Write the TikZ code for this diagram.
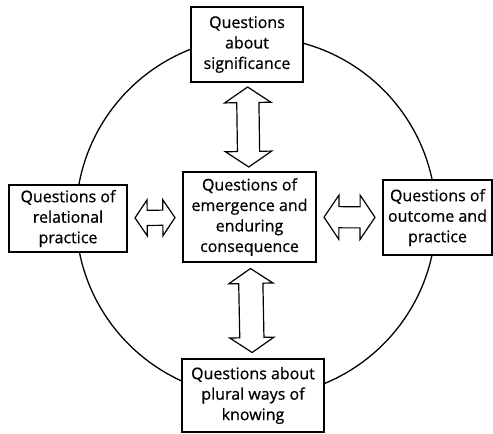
\documentclass[tikz,border=0pt]{standalone}
\usepackage{fontspec}
\setmainfont{Open Sans}
\newfontfamily\qfont[FakeBold=0.6]{Open Sans}
\usetikzlibrary{shapes.arrows}
\tikzset{
  qbox/.style={draw, fill=white, line width=1.2pt, align=center, inner sep=2pt,
    font=\qfont\fontsize{16}{20.5}\selectfont},
  blockarrow/.style={double arrow, draw, fill=white, line width=1.2pt, inner sep=0pt,
    double arrow tip angle=112}
}
\begin{document}
\begin{tikzpicture}[x=1pt, y=-1pt]
    \useasboundingbox (0,0) rectangle (493,434);

    % Le cercle
    \draw[line width=1.3pt] (256,217) circle [radius=180pt];

    % Les questions
    \node[qbox, minimum width=112pt, minimum height=75pt] (sig) at (247,44.5) {Questions\\about\\significance};
    \node[qbox, minimum width=133pt, minimum height=90pt] (emerg) at (249.5,217) {Questions of\\emergence and\\enduring\\consequence};
    \node[qbox, minimum width=118pt, minimum height=67pt] (rel) at (68,218.5) {Questions of\\relational\\practice};
    \node[qbox, minimum width=109pt, minimum height=75pt] (outc) at (437.5,217.5) {Questions of\\outcome and\\practice};
    \node[qbox, minimum width=142pt, minimum height=73pt] (plural) at (253,395.5) {Questions about\\plural ways of\\knowing};

    % Les flèches doubles
    \path (sig) -- node[blockarrow, sloped, minimum height=80pt, inner ysep=10.5pt, double arrow head extend=12pt] (aup) {} (emerg);
    \path (emerg) -- node[blockarrow, sloped, minimum height=84pt, inner ysep=11.5pt, double arrow head extend=10pt] (adown) {} (plural);
    \path (rel) -- node[blockarrow, sloped, minimum height=40pt, inner ysep=7pt, double arrow head extend=10.5pt] (aleft) {} (emerg);
    \path (emerg) -- node[blockarrow, sloped, minimum height=51pt, inner ysep=10pt, double arrow head extend=11.5pt] (aright) {} (outc);
\end{tikzpicture}
\end{document}
